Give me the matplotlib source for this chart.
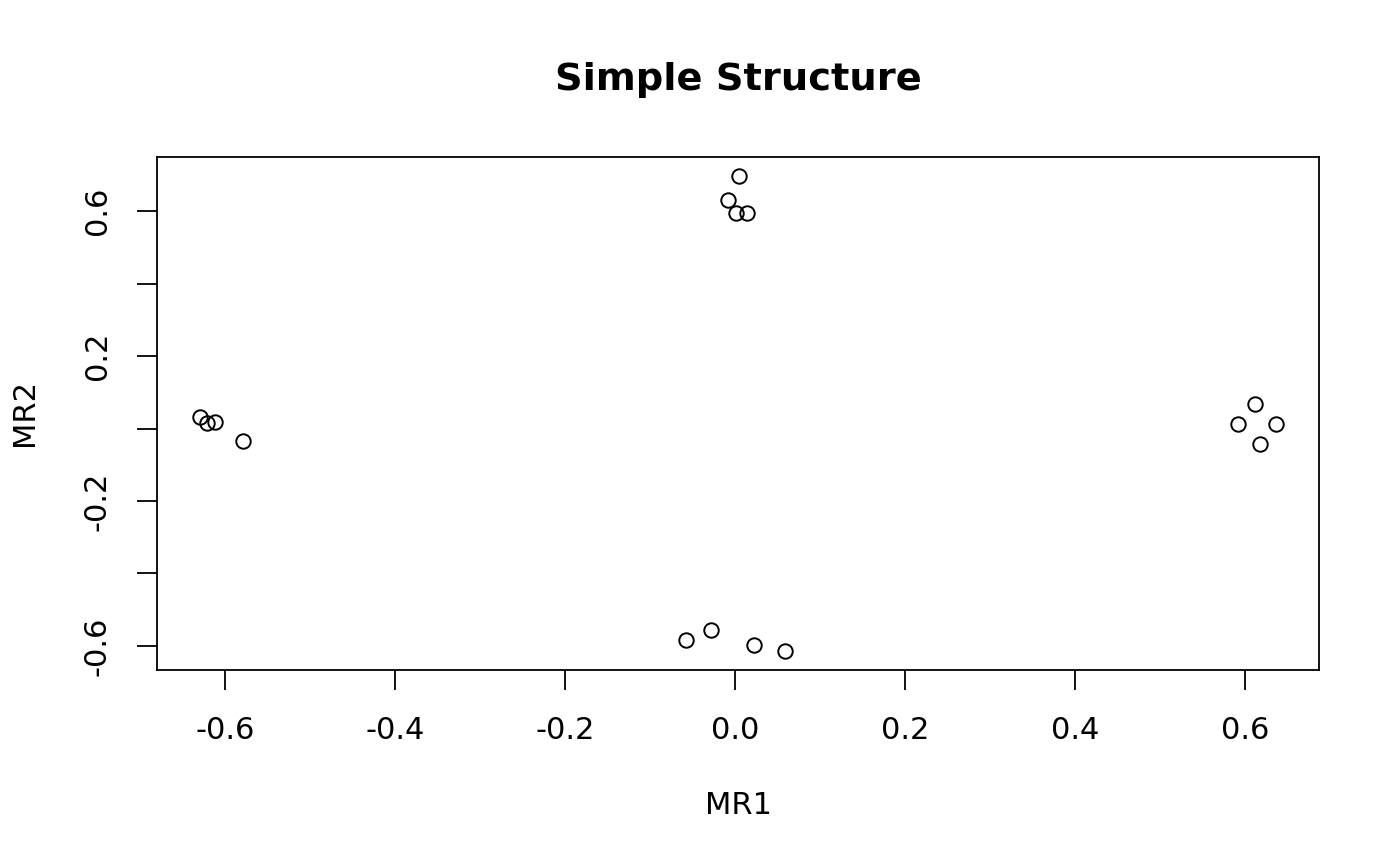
import numpy as np
import matplotlib
matplotlib.use("Agg")
import matplotlib.pyplot as plt

# loadings (four clusters)
mr1 = [0.005, -0.008, 0.001, 0.014,
       -0.058, -0.029, 0.022, 0.059,
       0.611, 0.591, 0.636, 0.617,
       -0.629, -0.621, -0.612, -0.579]
mr2 = [0.697, 0.630, 0.594, 0.596,
       -0.583, -0.556, -0.597, -0.614,
       0.068, 0.012, 0.012, -0.043,
       0.031, 0.016, 0.019, -0.034]

xticks = [-0.6, -0.4, -0.2, 0.0, 0.2, 0.4, 0.6]
yticks = [-0.6, -0.4, -0.2, 0.0, 0.2, 0.4, 0.6]
ylabels = ["-0.6", "", "-0.2", "", "0.2", "", "0.6"]

plt.rcParams['font.family'] = ['DejaVu Sans']
fs = 22

def rlim(v):
    # R style 4% padding
    lo, hi = min(v), max(v)
    pad = 0.04 * (hi - lo)
    return lo - pad, hi + pad

W, H = 1400, 866
fig = plt.figure(figsize=(W / 100, H / 100), dpi=100)
ax = fig.add_axes([157.4 / W, 1 - 670 / H, (1319 - 157.4) / W, (670 - 157) / H])

ax.plot(mr1, mr2, linestyle="none", marker="o", markersize=10.4,
        markerfacecolor="none", markeredgecolor="black", markeredgewidth=1.4)

ax.set_xlim(rlim(mr1))
ax.set_ylim(rlim(mr2))
ax.set_xticks(xticks)
ax.set_xticklabels(["%.1f" % t for t in xticks])
ax.set_yticks(yticks)
ax.set_yticklabels(ylabels, rotation=90, va="center")
ax.tick_params(direction="out", length=14.4, width=1.3, pad=18.5, labelsize=fs)
for sp in ax.spines.values():
    sp.set_linewidth(1.3)

fig.text(738 / W, 1 - 80 / H, "Simple Structure", ha="center", va="center",
         fontsize=27.6, fontweight="bold")
fig.text(738 / W, 1 - 805 / H, "MR1", ha="center", va="center", fontsize=fs)
fig.text(25 / W, 1 - 413 / H, "MR2", ha="center", va="center", fontsize=fs,
         rotation=90)

fig.savefig("out.png", dpi=100)
